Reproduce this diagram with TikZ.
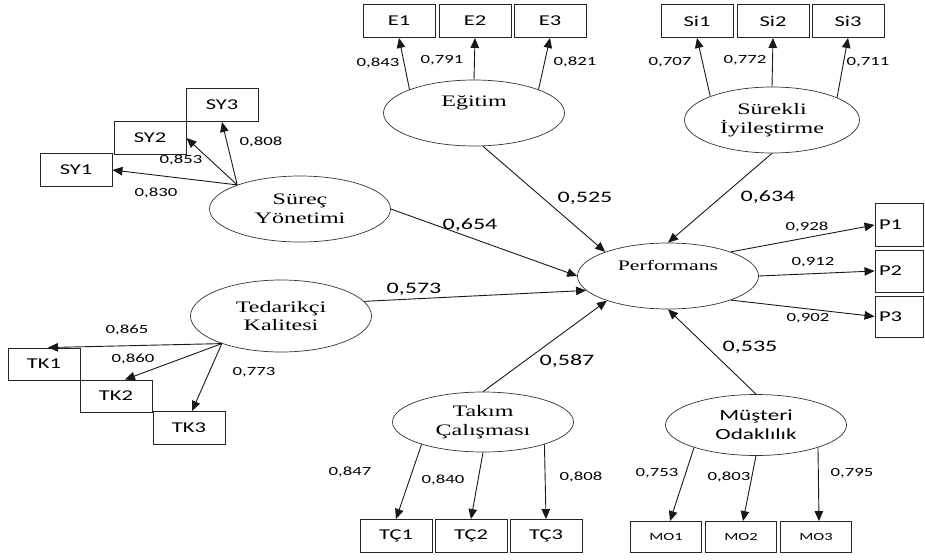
\documentclass[tikz,border=0pt]{standalone}
\usepackage{fontspec}
\setmainfont{Liberation Serif}[FakeStretch=1.5]
\newfontfamily\numfont{Carlito}[FakeStretch=1.5]
\usetikzlibrary{shapes.geometric, arrows.meta, calc}

\begin{document}
\begin{tikzpicture}[x=1pt, y=-1pt,
  latent/.style={draw=black!80, line width=0.7pt, ellipse,
                 minimum width=181pt, minimum height=66pt, inner sep=0pt,
                 align=center, font=\fontsize{16}{18.5}\selectfont},
  ind/.style={draw=black!85, line width=0.9pt, inner sep=0pt,
              minimum width=72pt, minimum height=33pt,
              font=\numfont\fontsize{15}{18}\selectfont},
  indsm/.style={ind, font=\numfont\fontsize{11}{13}\selectfont},
  ldg/.style={inner sep=0pt, font=\numfont\fontsize{12.5}{14}\selectfont},
  coef/.style={inner sep=0pt, font=\numfont\fontsize{16}{18}\selectfont},
  arr/.style={->, line width=0.9pt, draw=black!90},
  >={Triangle[length=10pt,width=8.5pt]}
]
  \fill[white] (0,0) rectangle (925,559);
  \useasboundingbox (0,0) rectangle (925,559);

  % Latent variables
  \node[latent, font=\fontsize{14.5}{17}\selectfont] (Perf) at (668,276) {Performans\\[4pt]};
  \node[latent] (Egitim)  at (474,113) {Eğitim\\[6pt]};
  \node[latent, minimum width=175pt] (Surekli) at (772,120) {Sürekli\\İyileştirme};
  \node[latent] (Surec)   at (300,209) {Süreç\\Yönetimi};
  \node[latent, minimum height=72pt] (Tedarik) at (281,316) {Tedarikçi\\Kalitesi};
  \node[latent, minimum height=60pt] (Takim)   at (483,422) {Takım\\Çalışması};
  \node[latent, minimum height=61pt, font=\numfont\fontsize{15.5}{19}\selectfont]
    (Musteri) at (756,425) {Müşteri\\Odaklılık};

  % Indicators
  \node[ind] (E1) at (399,21) {E1};
  \node[ind] (E2) at (475,21) {E2};
  \node[ind] (E3) at (550,21) {E3};
  \node[ind] (Si1) at (697,21) {Si1};
  \node[ind] (Si2) at (773,21) {Si2};
  \node[ind] (Si3) at (848,21) {Si3};
  \node[ind] (SY1) at (76,170)  {SY1};
  \node[ind] (SY2) at (150,138) {SY2};
  \node[ind] (SY3) at (222,105) {SY3};
  \node[ind, minimum height=32pt] (TK1) at (44,364)  {TK1};
  \node[ind, minimum height=32pt] (TK2) at (116,396) {TK2};
  \node[ind, minimum height=33pt] (TK3) at (189,428) {TK3};
  \node[ind] (TC1) at (396,536) {TÇ1};
  \node[ind] (TC2) at (471,536) {TÇ2};
  \node[ind] (TC3) at (546,536) {TÇ3};
  \node[indsm, minimum width=71pt, minimum height=31pt] (MO1) at (666,537) {MO1};
  \node[indsm, minimum width=71pt, minimum height=31pt] (MO2) at (741,537) {MO2};
  \node[indsm, minimum width=71pt, minimum height=31pt] (MO3) at (816,537) {MO3};
  \node[ind, minimum width=48pt, minimum height=43pt, text width=40pt] (P1) at (899,225) {P1};
  \node[ind, minimum width=48pt, minimum height=42pt, text width=40pt] (P2) at (899,271) {P2};
  \node[ind, minimum width=48pt, minimum height=41pt, text width=40pt] (P3) at (899,316.5) {P3};

  % Measurement arrows
  \draw[arr] (Egitim.160) -- (E1.south);
  \draw[arr] (Egitim.north) -- (E2.south);
  \draw[arr] (Egitim.20) -- (E3.south);
  \draw[arr] (Surekli.159) -- (Si1.south);
  \draw[arr] (Surekli.north) -- (Si2.south);
  \draw[arr] (Surekli.19) -- (Si3.south);
  \coordinate (syhub) at (Surec.159);
  \draw[arr] (syhub) -- (SY1.east);
  \draw[arr] (syhub) -- (SY2.east);
  \draw[arr] (syhub) -- (SY3.south);
  \coordinate (tkhub) at (Tedarik.205);
  \draw[arr] (tkhub) -- ($(TK1.north)+(4,0)$);
  \draw[arr] (tkhub) -- ($(TK2.north)+(9,0)$);
  \draw[arr] (tkhub) -- ($(TK3.north)+(3,0)$);
  \draw[arr] (Takim.200) -- (TC1.north);
  \draw[arr] (Takim.south) -- (TC2.north);
  \draw[arr] (Takim.340) -- (TC3.north);
  \draw[arr] (Musteri.200) -- ($(MO1.north)+(4,0)$);
  \draw[arr] (Musteri.south) -- ($(MO2.north)+(2,0)$);
  \draw[arr] (Musteri.340) -- ($(MO3.north)+(3,0)$);
  \draw[arr] (Perf.21) -- (P1.west);
  \draw[arr] (Perf.east) -- (P2.west);
  \draw[arr] (Perf.-21) -- (P3.west);

  % Structural paths
  \draw[arr] (Egitim.-75) -- (Perf.159);
  \draw[arr] (Surekli.south) -- (Perf.north);
  \draw[arr] (Surec.east) -- (Perf.west);
  \draw[arr] (Tedarik.10) -- (Perf.190);
  \draw[arr] (Takim.north) -- (Perf.202);
  \draw[arr] (Musteri.north) -- (Perf.south);

  % Loadings
  \node[ldg] (l1) at (378,63) {0,843};
  \node[ldg] (l2) at (442,60) {0,791};
  \node[ldg] (l3) at (575,62) {0,821};
  \node[ldg] (l4) at (670,62) {0,707};
  \node[ldg] (l5) at (745,60) {0,772};
  \node[ldg] (l6) at (868,62) {0,711};
  \node[ldg] (l7) at (156,193) {0,830};
  \node[ldg] (l8) at (181,160) {0,853};
  \node[ldg] (l9) at (261,142) {0,808};
  \node[ldg] (l10) at (127,330) {0,865};
  \node[ldg] (l11) at (133,359) {0,860};
  \node[ldg] (l12) at (254,372) {0,773};
  \node[ldg] (l13) at (350,472) {0,847};
  \node[ldg] (l14) at (443,480) {0,840};
  \node[ldg] (l15) at (581,477) {0,808};
  \node[ldg] (l16) at (657,473) {0,753};
  \node[ldg] (l17) at (729,477) {0,803};
  \node[ldg] (l18) at (852,473) {0,795};
  \node[ldg] (l19) at (807,227) {0,928};
  \node[ldg] (l20) at (813,262) {0,912};
  \node[ldg] (l21) at (808,318) {0,902};

  % Path coefficients
  \node[coef] (c1) at (585,198) {0,525};
  \node[coef] (c2) at (768,197) {0,634};
  \node[coef] (c3) at (470,225) {0,654};
  \node[coef] (c4) at (414,289) {0,573};
  \node[coef] (c5) at (567,361) {0,587};
  \node[coef] (c6) at (750,347) {0,535};
\end{tikzpicture}
\end{document}
